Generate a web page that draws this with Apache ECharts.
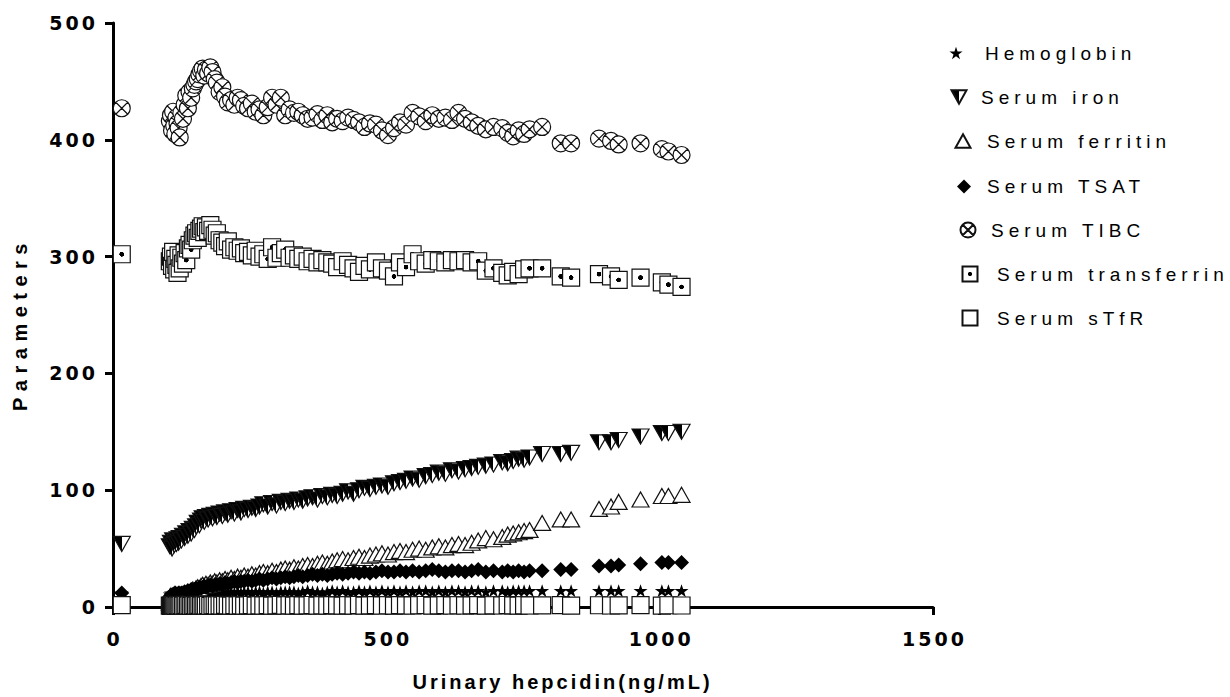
<!DOCTYPE html>
<html>
<head>
<meta charset="utf-8">
<script src="https://cdn.jsdelivr.net/npm/echarts@6/dist/echarts.min.js"></script>
<style>
html,body{margin:0;padding:0;background:#fff;}
#chart{width:1230px;height:697px;}
</style>
</head>
<body>
<div id="chart"></div>
<script>
// ---- data ----
const xHepcidin = [16,
104,106,108,110,112,114,116,118,120,122,
125,128,131,134,137,140,143,146,149,152,
155,158,161,164,167,170,174,178,182,186,
190,195,200,205,210,216,222,228,234,240,
247,254,261,268,275,283,291,299,307,315,
323,331,339,347,356,365,374,383,392,401,
410,420,430,440,450,460,470,481,492,503,
514,525,536,548,560,572,584,596,608,620,
632,644,656,668,682,696,712,722,732,742,
752,762,785,819,838,889,911,925,965,1004,
1016,1040];

const hemoglobin = [12,
11,12,11,12,13,11,12,12,11,13,
12,13,12,11,12,13,12,12,13,12,
12,13,13,12,12,13,12,13,12,13,
13,12,13,12,13,13,12,13,12,13,
13,12,13,13,12,13,13,12,13,13,
13,13,12,13,14,13,13,12,13,14,
13,14,13,13,14,13,14,13,14,13,
14,13,14,13,14,14,13,14,13,14,
14,13,14,14,13,14,14,13,14,14,
14,14,14,14,14,14,14,14,14,14,
14,14];

const serumIron = [54,
52,55,50,57,53,56,54,58,55,59,
57,61,59,63,61,65,63,67,66,69,
72,70,74,76,73,77,75,78,76,79,
77,80,78,81,79,82,80,83,81,84,
83,85,84,86,88,86,89,87,90,89,
91,90,92,91,93,94,92,95,94,96,
95,97,99,97,100,102,101,103,104,103,
106,107,108,110,109,112,113,115,114,117,
116,118,119,120,121,122,124,123,125,127,
126,128,131,131,132,141,141,143,146,149,
149,150];

const serumFerritin = [3,
4,6,5,7,6,8,7,9,8,10,
9,11,10,12,13,12,14,15,14,16,
17,16,18,19,18,20,19,21,20,22,
21,23,22,24,23,25,24,26,25,27,
26,28,27,29,30,29,31,30,32,33,
32,34,33,35,36,35,37,38,37,39,
40,41,40,42,43,42,44,45,46,45,
47,48,47,49,50,49,51,52,51,53,
54,53,55,57,59,58,60,62,63,64,
65,66,72,75,75,84,86,90,92,95,
95,96];

const serumTSAT = [12,
9,10,8,11,9,12,10,11,12,10,
12,11,13,12,14,13,15,14,15,16,
15,17,16,17,18,17,18,19,18,19,
19,20,19,21,20,21,22,21,22,22,
23,22,23,24,23,24,25,24,25,26,
25,26,27,26,27,28,27,28,27,28,
29,28,29,30,29,30,29,30,31,30,
30,31,30,31,30,31,32,31,30,31,
31,30,31,32,30,31,30,31,30,31,
30,31,31,32,32,35,35,36,37,38,
38,38];

const serumTIBC = [427,
416,421,408,424,412,405,419,414,410,402,
423,418,430,438,427,441,436,444,447,450,
452,456,459,461,455,460,457,462,458,452,
449,441,445,437,432,434,430,436,434,429,
427,431,424,426,421,428,436,430,436,421,
426,423,424,421,418,419,422,417,421,415,
418,416,419,417,415,411,414,413,408,404,
410,415,413,423,420,416,421,418,419,417,
423,418,415,412,409,411,410,406,403,408,
405,409,411,397,397,401,399,396,397,392,
390,387];

const serumTransferrin = [302,
296,300,292,304,289,298,293,286,301,290,
299,294,303,297,307,310,306,314,318,320,
316,322,324,326,321,325,322,327,323,318,
320,314,312,309,313,306,308,305,307,303,
304,301,305,300,302,298,308,299,303,306,
299,301,298,300,296,298,295,297,295,294,
291,296,293,290,287,292,289,295,290,288,
283,295,291,302,296,294,297,296,295,297,
296,297,295,296,288,290,286,284,287,285,
289,290,290,283,282,285,283,280,282,278,
276,274];

const serumSTfR = [1.6,
1.2,0.9,1.5,1.1,1.8,1.3,1.0,1.6,1.4,1.2,
1.7,1.1,1.4,1.9,1.2,1.5,1.0,1.3,1.6,1.2,
1.4,1.8,1.1,1.3,1.5,1.2,1.7,1.0,1.4,1.6,
1.3,1.5,1.2,1.8,1.4,1.1,1.6,1.3,1.5,1.2,
1.4,1.7,1.2,1.5,1.3,1.6,1.1,1.4,1.8,1.3,
1.5,1.2,1.6,1.3,1.4,1.7,1.2,1.5,1.3,1.6,
1.4,1.1,1.5,1.3,1.7,1.2,1.4,1.6,1.3,1.5,
1.2,1.6,1.4,1.3,1.5,1.7,1.2,1.4,1.6,1.3,
1.5,1.3,1.4,1.6,1.2,1.5,1.3,1.7,1.4,1.2,
1.5,1.3,1.4,1.6,1.2,1.5,1.3,1.4,1.6,1.2,
1.5,1.3];

const seriesNames = ['Hemoglobin','Serum iron','Serum ferritin','Serum TSAT','Serum TIBC','Serum transferrin','Serum sTfR'];
const xAxisTitle = 'Urinary hepcidin(ng/mL)';
const yAxisTitle = 'Parameters';

// ---- styling ----
const INK = '#111';
const SYM = {
  star: 'path://M10,0L12.35,7.24L19.95,7.24L13.8,11.71L16.18,18.94L10,14.47L3.82,18.94L6.2,11.71L0.05,7.24L7.65,7.24Z',
  down: 'path://M0,0L20,0L10,18Z',
  up: 'path://M10,0L20,18L0,18Z',
  diamond: 'path://M10,0L20,10L10,20L0,10Z',
  otimes: 'path://M0,10A10,10,0,1,1,20,10A10,10,0,1,1,0,10Z M2.93,2.93L17.07,17.07 M17.07,2.93L2.93,17.07',
  square: 'path://M0,0L20,0L20,20L0,20Z'
};
const halfFill = {type:'linear',x:0,y:0,x2:1,y2:0,colorStops:[
  {offset:0,color:'#000'},{offset:0.5,color:'#000'},{offset:0.5,color:'#fff'},{offset:1,color:'#fff'}]};
const dotFill = {type:'radial',x:0.5,y:0.5,r:0.5,colorStops:[
  {offset:0,color:'#000'},{offset:0.26,color:'#000'},{offset:0.3,color:'#fff'},{offset:1,color:'#fff'}]};

const values = [hemoglobin, serumIron, serumFerritin, serumTSAT, serumTIBC, serumTransferrin, serumSTfR];
const symbols = [SYM.star, SYM.down, SYM.up, SYM.diamond, SYM.otimes, SYM.square, SYM.square];
const sizes = [[14,13],[17,15],[17,15],[15,15],[17,17],[17,17],[17,17]];
const fills = ['#000', halfFill, '#fff', '#000', '#fff', dotFill, '#fff'];
const borders = [0, 1.2, 1.2, 0, 1.2, 1.2, 1.2];

const series = seriesNames.map(function(name, k){
  return {
    name: name,
    type: 'scatter',
    symbol: symbols[k],
    symbolSize: sizes[k],
    itemStyle: {color: fills[k], borderColor: INK, borderWidth: borders[k], opacity: 1},
    emphasis: {disabled: true},
    data: xHepcidin.map(function(x, i){ return [x, values[k][i]]; })
  };
});

// legend placement: icon centre x, text start x, centre y, icon size
const legendPos = [
  [956, 985, 50, 13],
  [958, 980, 95, 15],
  [962, 986, 139, 15],
  [964, 987, 184, 14],
  [967, 990, 228, 15],
  [969, 996, 272, 15],
  [969, 996, 316, 15]
];
const legends = seriesNames.map(function(name, k){
  const p = legendPos[k];
  const left = p[0] - p[3] / 2;
  return {
    data: [name], orient: 'vertical', selectedMode: false, padding: 0,
    left: left, top: p[2] - p[3] / 2,
    itemWidth: p[3], itemHeight: p[3], symbolKeepAspect: true,
    textStyle: {fontFamily: 'Liberation Sans, Arial, sans-serif', fontSize: 19, color: '#000',
      padding: [0, 0, 0, p[1] - (left + p[3] + 5)]}
  };
});

const tickFont = {fontFamily: 'DejaVu Sans, sans-serif', fontWeight: 'bold', fontSize: 19, color: '#000'};

const option = {
  animation: false,
  backgroundColor: '#fff',
  grid: {left: 113, right: 297, top: 23, bottom: 89, containLabel: false},
  legend: legends,
  xAxis: {
    type: 'value', min: 0, max: 1500, interval: 500,
    name: xAxisTitle, nameLocation: 'middle', nameGap: 65,
    nameTextStyle: {fontFamily: 'Liberation Sans, Arial, sans-serif', fontWeight: 'bold', fontSize: 20, color: '#000'},
    axisLine: {show: true, onZero: false, lineStyle: {color: '#000', width: 3}},
    axisTick: {show: true, length: 8, lineStyle: {color: '#000', width: 3}},
    axisLabel: Object.assign({margin: 22, formatter: function(v){ return String(v); }}, tickFont),
    splitLine: {show: false}
  },
  yAxis: {
    type: 'value', min: 0, max: 500, interval: 100,
    name: yAxisTitle, nameLocation: 'middle', nameGap: 83,
    nameTextStyle: {fontFamily: 'Liberation Sans, Arial, sans-serif', fontWeight: 'bold', fontSize: 20, color: '#000'},
    axisLine: {show: true, onZero: false, lineStyle: {color: '#000', width: 3}},
    axisTick: {show: true, length: 8, lineStyle: {color: '#000', width: 3}},
    axisLabel: Object.assign({margin: 18, formatter: function(v){ return String(v); }}, tickFont),
    splitLine: {show: false}
  },
  series: series
};

const chart = echarts.init(document.getElementById('chart'), null, {renderer: 'svg'});
chart.setOption(option);

// wide letter tracking as in the original figure
function applySpacing(){
  document.querySelectorAll('#chart svg text').forEach(function(t){
    const s = (t.textContent || '').trim();
    let ls = 0, dx = null;
    if (seriesNames.indexOf(s) >= 0) ls = 5;
    else if (s === yAxisTitle) { ls = 6.5; dx = -9; }
    else if (s === xAxisTitle) { ls = 3; dx = 39.5; }
    else if (/^\d+$/.test(s)) ls = 3;
    if (!ls) return;
    t.setAttribute('letter-spacing', ls);
    const a = t.getAttribute('text-anchor');
    if (dx !== null) t.setAttribute('dx', dx);
    else if (a === 'middle') t.setAttribute('dx', ls / 2);
    else if (a === 'end') t.setAttribute('dx', ls);
  });
}
chart.on('finished', applySpacing);
setTimeout(applySpacing, 200);
</script>
</body>
</html>
